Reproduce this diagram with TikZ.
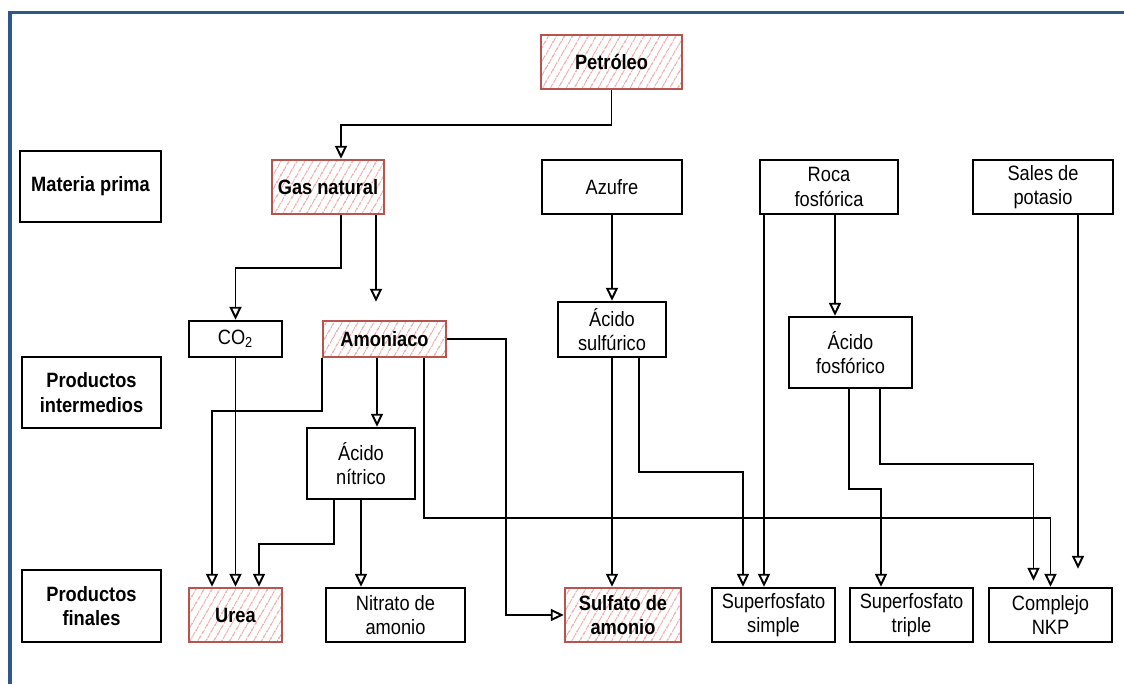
\documentclass[tikz,border=0pt]{standalone}
\usepackage{fontspec}
\setmainfont{Liberation Sans}[FakeStretch=0.88]
\usetikzlibrary{arrows.meta,patterns.meta}

\definecolor{frameblue}{HTML}{2D5986}
\definecolor{hotred}{HTML}{B85450}
\definecolor{hatchred}{HTML}{E9A4A1}

\begin{document}
\begin{tikzpicture}[x=0.02cm,y=-0.02cm,
  box/.style={draw=black,line width=1.4pt,inner sep=0pt,align=center,
    font=\fontsize{11.8pt}{14pt}\selectfont},
  lbl/.style={box,font=\fontsize{11.8pt}{14pt}\selectfont\bfseries},
  hot/.style={box,draw=hotred,font=\fontsize{11.8pt}{14pt}\selectfont\bfseries,
    pattern={Lines[angle=60,distance=4pt,line width=0.7pt]},pattern color=hatchred},
  arr/.style={line width=1.1pt,-{Triangle[open,length=0.26cm,width=0.24cm]}}]

\useasboundingbox (0,0) rectangle (1124,684);
\draw[frameblue,line width=2.2pt] (10,684) -- (10,12.5) -- (1124,12.5);

% -- top
\node[hot,minimum width=2.82cm,minimum height=1.08cm] (petro) at (611.5,62) {Petróleo};

% -- materia prima
\node[lbl,minimum width=2.82cm,minimum height=1.42cm] (mp) at (90.5,186.5) {Materia prima};
\node[hot,minimum width=2.24cm,minimum height=1.08cm] (gas) at (328,187) {Gas natural};
\node[box,minimum width=2.8cm,minimum height=1.08cm] (azufre) at (612,187) {Azufre};
\node[box,minimum width=2.76cm,minimum height=1.08cm] (roca) at (829,187) {Roca\\fosfórica};
\node[box,minimum width=2.8cm,minimum height=1.08cm] (sales) at (1043,187) {Sales de\\potasio};

% -- productos intermedios
\node[lbl,minimum width=2.78cm,minimum height=1.42cm] (pi) at (91.5,392.5) {Productos\\intermedios};
\node[box,minimum width=1.86cm,minimum height=0.72cm] (co2) at (235.5,339) {CO\textsubscript{2}};
\node[hot,minimum width=2.46cm,minimum height=0.72cm] (amon) at (384.5,339) {Amoniaco};
\node[box,minimum width=2.16cm,minimum height=1.1cm] (sulf) at (612,329.5) {Ácido\\sulfúrico};
\node[box,minimum width=2.46cm,minimum height=1.42cm] (fosf) at (850.5,352.5) {Ácido\\fosfórico};
\node[box,minimum width=2.16cm,minimum height=1.42cm] (nitrico) at (361,463.5) {Ácido\\nítrico};

% -- productos finales
\node[lbl,minimum width=2.78cm,minimum height=1.44cm] (pf) at (91.5,606) {Productos\\finales};
\node[hot,minimum width=1.86cm,minimum height=1.08cm] (urea) at (235.5,615) {Urea};
\node[box,minimum width=2.78cm,minimum height=1.08cm] (nitrato) at (395.5,615) {Nitrato de\\amonio};
\node[hot,minimum width=2.32cm,minimum height=1.08cm] (sulfato) at (623,615) {Sulfato de\\amonio};
\node[box,minimum width=2.46cm,minimum height=1.08cm] (simple) at (773.5,615) {Superfosfato\\simple};
\node[box,minimum width=2.46cm,minimum height=1.08cm] (triple) at (911.5,615) {Superfosfato\\triple};
\node[box,minimum width=2.46cm,minimum height=1.08cm] (nkp) at (1050.5,615) {Complejo\\NKP};

% -- draw arrows
\draw[arr] (petro.south) -- ++(0,35) -| ([shift={(13,0)}]gas.north);

\draw[arr] ([shift={(13,0)}]gas.south) -- ++(0,53) -| (co2.north);
\draw[arr,shorten >=0.36cm] ([shift={(48,0)}]gas.south) -- ([shift={(-8.5,0)}]amon.north);

\draw[arr] (co2.south) -- (urea.north);
\draw[arr] (amon.south west) -- ++(0,53) -| ([shift={(-23.5,0)}]urea.north);
\draw[arr] ([shift={(-7.5,0)}]amon.south) -- ([shift={(16,0)}]nitrico.north);
\draw[arr] (amon.east) -- ++(59,0) |- (sulfato.west);
\draw[arr] ([shift={(39.5,0)}]amon.south) -- ++(0,160) -| (nkp.north);

\draw[arr] ([shift={(-27,0)}]nitrico.south) -- ++(0,44) -| ([shift={(23.5,0)}]urea.north);
\draw[arr] (nitrico.south) -- ([shift={(-34.5,0)}]nitrato.north);

\draw[arr] (azufre.south) -- (sulf.north);
\draw[arr] (sulf.south) -- ([shift={(-11,0)}]sulfato.north);
\draw[arr] ([shift={(27,0)}]sulf.south) -- ++(0,114) -| ([shift={(-30.5,0)}]simple.north);

\draw[arr] ([shift={(-65,0)}]roca.south) -- ([shift={(-9.5,0)}]simple.north);
\draw[arr] ([shift={(6,0)}]roca.south) -- ([shift={(-15.5,0)}]fosf.north);

\draw[arr] ([shift={(-1.5,0)}]fosf.south) -- ++(0,100) -| ([shift={(-30.5,0)}]triple.north);
\draw[arr,shorten >=0.12cm] ([shift={(29.5,0)}]fosf.south) -- ++(0,75) -| ([shift={(-17,0)}]nkp.north);

\draw[arr,shorten >=0.36cm] ([shift={(35,0)}]sales.south) -- ([shift={(27.5,0)}]nkp.north);
\end{tikzpicture}
\end{document}
